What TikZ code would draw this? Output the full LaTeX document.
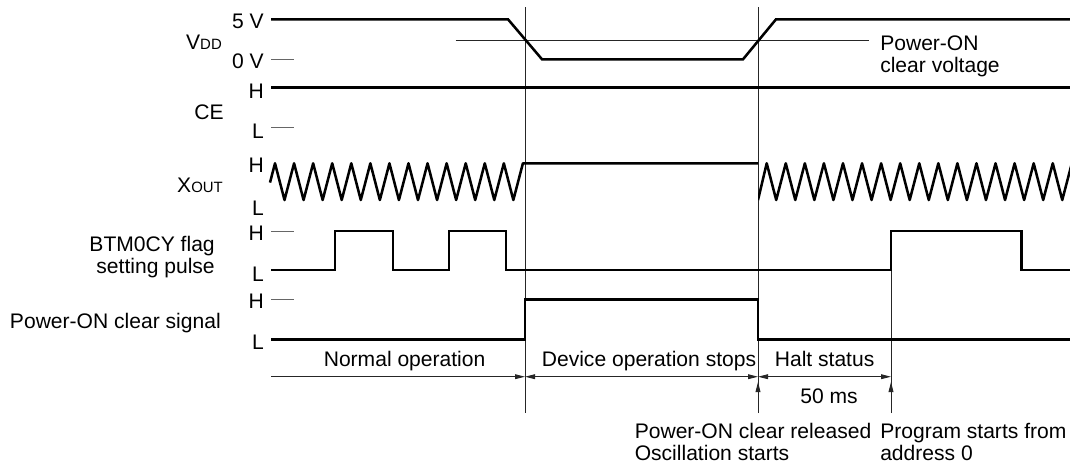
\documentclass[tikz,border=0pt]{standalone}
\usepackage{fontspec}
\setmainfont{Liberation Sans}
\usepackage{tikz}
\usetikzlibrary{
arrows.meta,
positioning
}

\newcommand{\lowcaps}[1]{{\fontsize{11.2}{12}\selectfont #1}}

\tikzset{
sig/.style={line width=1.9pt},
guide/.style={line width=0.7pt, black!85},
levtick/.style={line width=0.6pt, black!60},
lev/.style={anchor=base east}
}

\begin{document}
\begin{tikzpicture}[>={Triangle[length=7.5pt,width=3.6pt]}, x=0.75pt, y=-0.75pt,
  every node/.style={inner sep=0pt, font=\fontsize{15.8}{16.5}\selectfont}]

\useasboundingbox (0,0) rectangle (1070,465);

% Time marks
\coordinate (stopTop) at (525,7);
\coordinate (stopBot) at (525,413);
\coordinate (relTop) at (758,7);
\coordinate (relBot) at (758,413);
\coordinate (progTop) at (891,270);
\coordinate (progBot) at (891,413);
\draw[guide] (stopTop) -- (stopBot);
\draw[guide] (relTop) -- (relBot);
\draw[guide] (progTop) -- (progBot);

% V_DD
\node[anchor=base] (vdd) at (204,49) {V\lowcaps{DD}};
\node[lev] (vddHi) at (264,28) {5 V};
\node[lev] (vddLo) at (264,68) {0 V};
\draw[levtick] (271,59.3) -- (294,59.3);
\coordinate (thrStart) at (455.6,40);
\coordinate (thrEnd) at (869,40);
\draw[guide] (thrStart) -- (thrEnd);
\node[anchor=north west, align=left] (thrLabel) at (880,35.2) {Power-ON\\clear voltage};
\draw[sig] (271,19.3) -- (508,19.3) -- (542,59.3) -- (743,59.3) -- (776,19.3) -- (1070,19.3);

% CE
\node[anchor=base] (ce) at (209,119) {CE};
\node[lev] (ceH) at (264,98) {H};
\node[lev] (ceL) at (264,138) {L};
\draw[levtick] (271,127) -- (294,127);
\draw[sig] (271,87.3) -- (1070,87.3);

% X_OUT
\node[anchor=base] (xout) at (200,192) {X\lowcaps{OUT}};
\node[lev] (xoutH) at (264,172) {H};
\node[lev] (xoutL) at (264,215) {L};
\draw[sig, line join=round] (270,182.6)
  \foreach \k in {0,...,12} {-- ({275+19.07*\k},163.3) -- ({284.5+19.07*\k},200)}
  -- (522.9,163.3) -- (758,163.3);
\begin{scope}
\clip (758,150) rectangle (1070,215);
\draw[sig, line join=round] (758,200)
  \foreach \k in {0,...,16} {-- ({766.7+19.07*\k},163.3) -- ({776.2+19.07*\k},200)};
\end{scope}

% BTM0CY flag setting pulse
\node[anchor=north east, align=right] (btm) at (215,235.7) {BTM0CY flag\\setting pulse};
\node[lev] (btmH) at (264,240) {H};
\node[lev] (btmL) at (264,281) {L};
\draw[levtick] (271,231) -- (294,231);
\draw[sig] (271,270) -- (335,270) |- (393,231) |- (449,270) |- (506,231)
  |- (891,270) |- (1021.6,231) |- (1070,270);

% Power-ON clear signal
\node[anchor=base east] (poc) at (221,328) {Power-ON clear signal};
\node[lev] (pocH) at (264,308.3) {H};
\node[lev] (pocL) at (264,349.5) {L};
\draw[levtick] (271,299.3) -- (294,299.3);
\draw[sig] (271,339.3) -| (525,299.3) -| (758,339.3) -- (1070,339.3);

% Phases
\coordinate (phStart) at (271,376.7);
\coordinate (phStop) at (525,376.7);
\coordinate (phRel) at (758,376.7);
\coordinate (phProg) at (891,376.7);
\draw[guide, ->] (phStart) -- (phStop);
\draw[guide, <->] (phStop) -- (phRel);
\draw[guide, <->] (phRel) -- (phProg);
\node[anchor=base] (normal) at (404.6,366.7) {Normal operation};
\node[anchor=base] (stops) at (649,366.7) {Device operation stops};
\node[anchor=base] (halt) at (824.6,366.7) {Halt status};
\node[anchor=base] (wait) at (829,403.3) {50 ms};

% Events
\coordinate (relTip) at (758,382);
\coordinate (progTip) at (891,382);
\draw[guide, ->] (relBot) -- (relTip);
\draw[guide, ->] (progBot) -- (progTip);
\node[anchor=north west, align=left] (released) at (634.5,422.7) {Power-ON clear released\\Oscillation starts};
\node[anchor=north west, align=left] (progStart) at (880,422.7) {Program starts from\\address 0};

\end{tikzpicture}
\end{document}
